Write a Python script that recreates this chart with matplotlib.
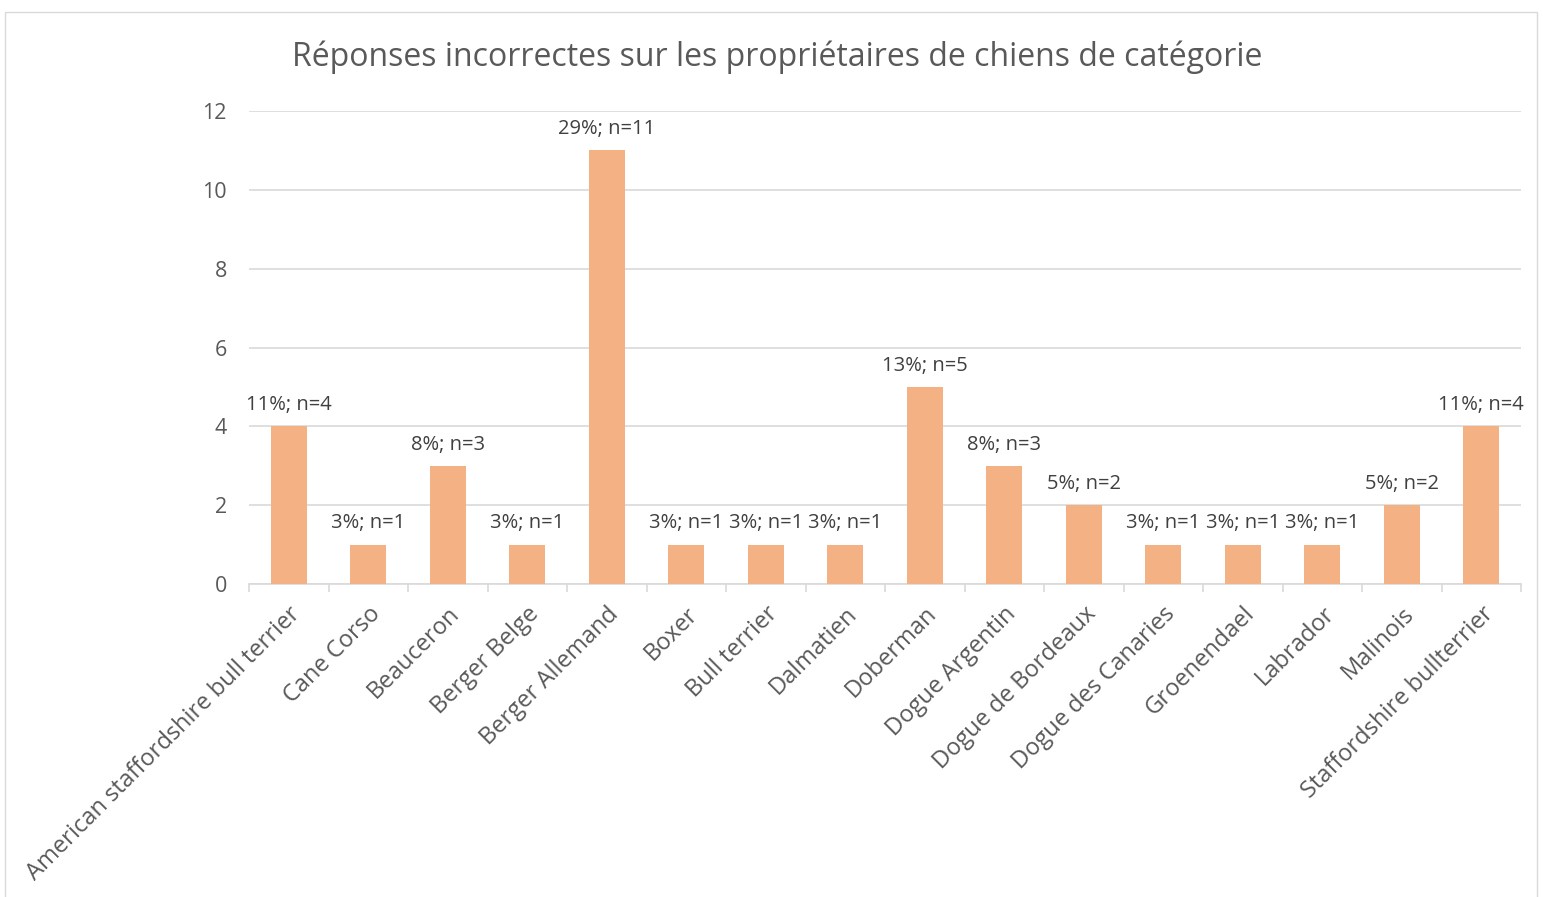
import matplotlib.pyplot as plt
from matplotlib.patches import Rectangle

# breeds and number of wrong answers
races = ['American staffordshire bull terrier', 'Cane Corso', 'Beauceron', 'Berger Belge',
         'Berger Allemand', 'Boxer', 'Bull terrier', 'Dalmatien', 'Doberman', 'Dogue Argentin',
         'Dogue de Bordeaux', 'Dogue des Canaries', 'Groenendael', 'Labrador', 'Malinois',
         'Staffordshire bullterrier']
nb = [4, 1, 3, 1, 11, 1, 1, 1, 5, 3, 2, 1, 1, 1, 2, 4]
pct = [11, 3, 8, 3, 29, 3, 3, 3, 13, 8, 5, 3, 3, 3, 5, 11]

plt.rcParams['font.family'] = ['Open Sans', 'DejaVu Sans']
gris = '#595959'

fig = plt.figure(figsize=(15.43, 8.97), dpi=100)
ax = fig.add_axes([249 / 1543, 1 - 584 / 897, (1521 - 249) / 1543, (584 - 111) / 897])

x = range(len(races))
ax.bar(x, nb, width=0.45, color='#F4B183', zorder=3)
for i, (v, p) in enumerate(zip(nb, pct)):
    ax.annotate(f'{p}%; n={v}', (i, v), xytext=(0, 8), textcoords='offset points',
                ha='center', va='bottom', fontsize=14.5, color='#404040')

ax.set_xlim(-0.5, len(races) - 0.5)
ax.set_ylim(0, 12)
ax.set_yticks(range(0, 13, 2))
ax.yaxis.grid(True, color='#D9D9D9', lw=1.2, zorder=0)
for s in ['top', 'right', 'left']:
    ax.spines[s].set_visible(False)
ax.spines['bottom'].set_color('#D9D9D9')
ax.spines['bottom'].set_linewidth(1.2)
ax.tick_params(axis='y', length=0, pad=16, labelsize=15.5, labelcolor=gris)

ax.set_xticks([i - 0.5 for i in range(len(races) + 1)], minor=False)
ax.set_xticklabels([])
ax.tick_params(axis='x', which='major', length=6, color='#D9D9D9', width=1.2)
ax.set_xticks(list(x), minor=True)
ax.set_xticklabels(races, minor=True, rotation=45, ha='right', rotation_mode='anchor',
                   fontsize=17, color=gris)
ax.tick_params(axis='x', which='minor', length=0, pad=13)

fig.text(777 / 1543, 1 - 57 / 897, 'Réponses incorrectes sur les propriétaires de chiens de catégorie',
         ha='center', va='center', fontsize=23, color=gris)

fig.patches.append(Rectangle((5 / 1543, -0.01), 1532 / 1543, 1 - 12 / 897 + 0.01,
                             transform=fig.transFigure, fill=False, ec='#D9D9D9', lw=1))

fig.savefig('out.png', dpi=100)
